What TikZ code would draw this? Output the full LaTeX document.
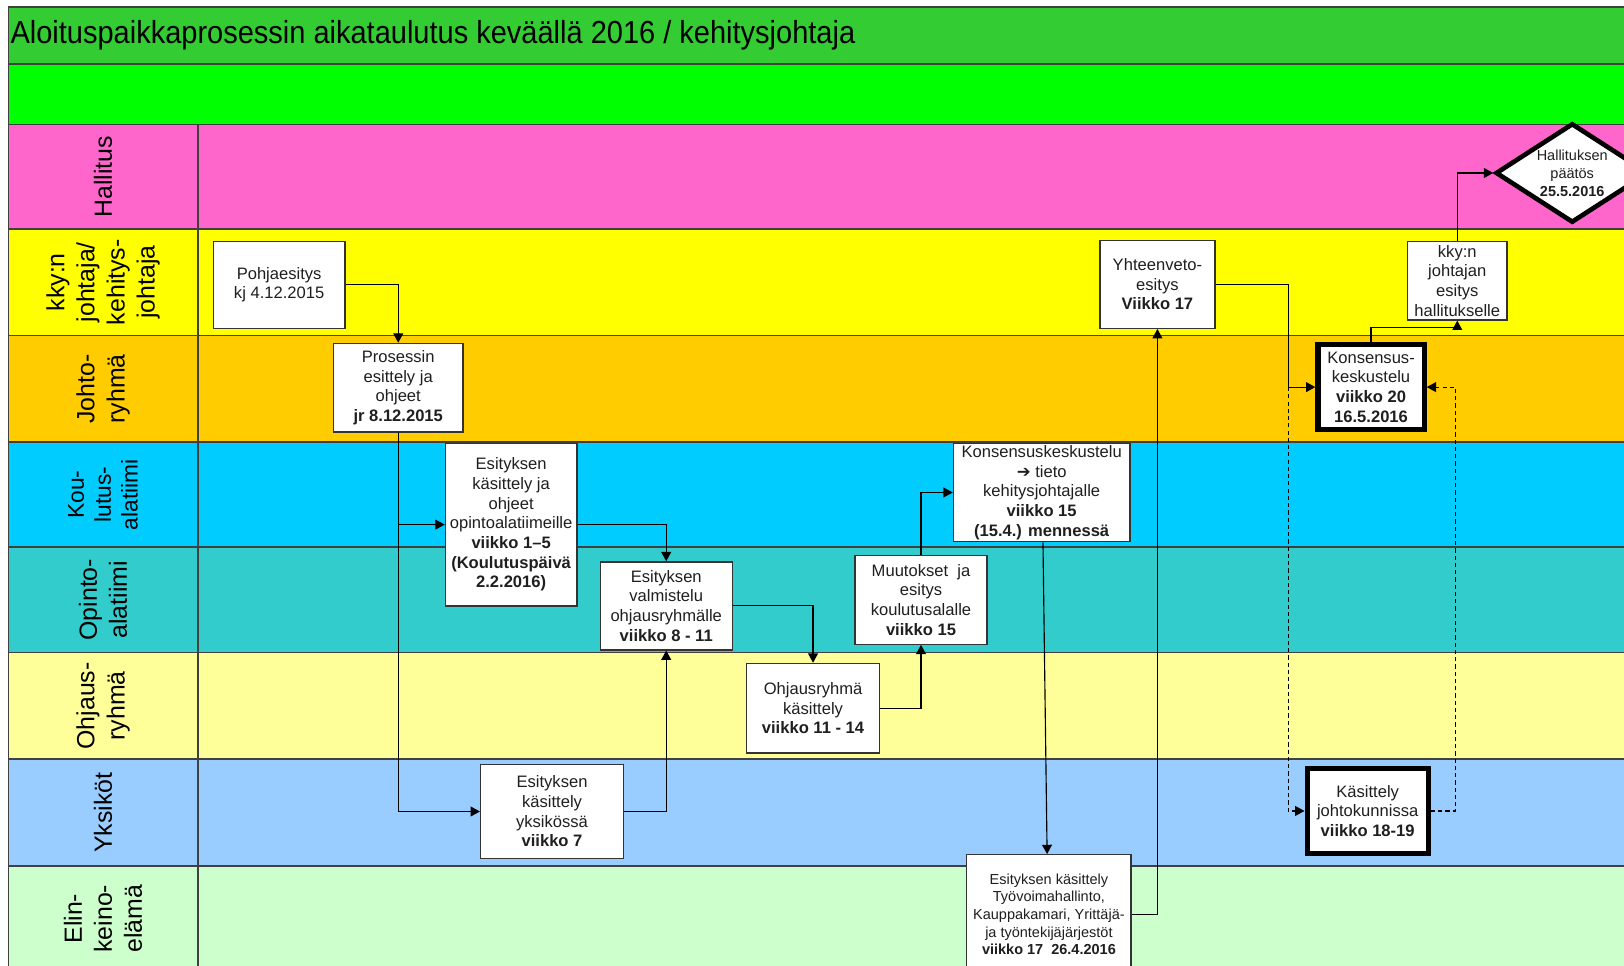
\documentclass[tikz,border=0pt]{standalone}
\usepackage{fontspec}
\setmainfont{Liberation Sans}
\newfontfamily\dejavu{DejaVu Sans}
\usetikzlibrary{arrows.meta,shapes.geometric}
\definecolor{titlegreen}{HTML}{33CC33}
\definecolor{bandgreen}{HTML}{00FF00}
\definecolor{hallc}{HTML}{FF66CC}
\definecolor{kkyc}{HTML}{FFFF00}
\definecolor{johtoc}{HTML}{FFCC00}
\definecolor{kouc}{HTML}{00CCFF}
\definecolor{opc}{HTML}{33CCCC}
\definecolor{ohjc}{HTML}{FFFF99}
\definecolor{yksc}{HTML}{99CCFF}
\definecolor{elinc}{HTML}{CCFFCC}
\definecolor{gridc}{HTML}{404040}
\definecolor{boxc}{HTML}{333333}
\definecolor{txt}{HTML}{1F1F1F}
\newcommand\myboxf{\fontsize{16}{19}\selectfont}
\newcommand\mysmallf{\fontsize{14}{17}\selectfont}
\newcommand\mydiaf{\fontsize{14}{17.5}\selectfont}
\newcommand\mylanef{\fontsize{24}{29}\selectfont}
\newcommand\mykouf{\fontsize{22}{26}\selectfont}
\newcommand\mytitlef{\fontsize{28}{32}\selectfont}
\begin{document}
\begin{tikzpicture}[x=1pt,y=-1pt,
  lane/.style={draw=gridc, line width=1.5pt},
  box/.style={draw=boxc, line width=1.2pt, fill=white, inner sep=0pt, align=center, font=\myboxf, text=txt},
  thickbox/.style={box, draw=black, line width=5pt},
  lbl/.style={rotate=90, align=center, font=\mylanef, text=black},
  arr/.style={draw=black, line width=1.1pt, -{Triangle[length=9pt,width=9.5pt]}},
  dasharr/.style={arr, dash pattern=on 4pt off 3pt},
]
\useasboundingbox (0,0) rectangle (1568,932);
\clip (0,0) rectangle (1568,932);
\fill[white] (0,0) rectangle (1568,932);
% bands
\path[lane, fill=titlegreen] (8,7) rectangle (1590,62);
\path[lane, fill=bandgreen] (8,62) rectangle (1590,120);
\path[lane, fill=hallc] (8,120) rectangle (1590,221);
\path[lane, fill=kkyc] (8,221) rectangle (1590,324);
\path[lane, fill=johtoc] (8,324) rectangle (1590,427);
\path[lane, fill=kouc] (8,427) rectangle (1590,528);
\path[lane, fill=opc] (8,528) rectangle (1590,630);
\path[lane, fill=ohjc] (8,630) rectangle (1590,733);
\path[lane, fill=yksc] (8,733) rectangle (1590,836);
\path[lane, fill=elinc] (8,836) rectangle (1590,945);
\draw[lane] (191,120) -- (191,945);
% title
\node[anchor=west, font=\mytitlef, text=black, inner sep=0pt, yscale=1.1] (T) at (10,34) {Aloituspaikkaprosessin aikataulutus keväällä 2016 / kehitysjohtaja};
% lane labels
\node[lbl] (L1) at (99.5,170.5) {Hallitus};
\node[lbl] (L2) at (99.5,272.5) {kky:n\\johtaja/\\kehitys-\\johtaja};
\node[lbl] (L3) at (99.5,375.5) {Johto-\\ryhmä};
\node[lbl, font=\mykouf] (L4) at (99.5,477.5) {Kou-\\lutus-\\alatiimi};
\node[lbl] (L5) at (99.5,579) {Opinto-\\alatiimi};
\node[lbl] (L6) at (99.5,681.5) {Ohjaus-\\ryhmä};
\node[lbl] (L7) at (99.5,784.5) {Yksiköt};
\node[lbl] (L8) at (99.5,887) {Elin-\\keino-\\elämä};
% nodes
\node[box, minimum width=127, minimum height=84] (P1) at (269.5,275) {Pohjaesitys\\kj 4.12.2015};
\node[box, minimum width=125, minimum height=85.5] (P2) at (384.5,374.25) {Prosessin\\esittely ja\\ohjeet\\\textbf{jr 8.12.2015}};
\node[box, minimum width=127, minimum height=157] (E1) at (493.5,506.5) {Esityksen\\käsittely ja\\ohjeet\\opintoalatiimeille\\\textbf{viikko 1–5}\\\textbf{(Koulutuspäivä}\\\textbf{2.2.2016)}};
\node[box, minimum width=127.5, minimum height=85] (V) at (643.25,585) {Esityksen\\valmistelu\\ohjausryhmälle\\\textbf{viikko 8 - 11}};
\node[box, minimum width=138, minimum height=91] (E5) at (533,783.5) {Esityksen\\käsittely\\yksikössä\\\textbf{viikko 7}};
\node[box, minimum width=128, minimum height=86.5] (O) at (785,683.75) {Ohjausryhmä\\käsittely\\\textbf{viikko 11 - 14}};
\node[box, minimum width=127.5, minimum height=86] (M) at (889.25,579) {Muutokset\ \ ja\\esitys\\koulutusalalle\\\textbf{viikko 15}};
\node[box, minimum width=170.5, minimum height=95] (K1) at (1005.75,475.5) {Konsensuskeskustelu\\{\dejavu\bfseries ➔} tieto\\kehitysjohtajalle\\\textbf{viikko 15}\\\textbf{(15.4.) mennessä}};
\node[box, font=\mysmallf, minimum width=158.5, minimum height=115] (E4) at (1012.75,882.75) {Esityksen käsittely\\Työvoimahallinto,\\Kauppakamari, Yrittäjä-\\ja työntekijäjärjestöt\\\textbf{viikko 17\ \ 26.4.2016}};
\node[box, minimum width=111, minimum height=85] (Y) at (1117.5,274.5) {Yhteenveto-\\esitys\\\textbf{Viikko 17}};
\node[thickbox, minimum width=102.5, minimum height=82.5] (K2) at (1323.75,373.75) {Konsensus-\\keskustelu\\\textbf{viikko 20}\\\textbf{16.5.2016}};
\node[box, minimum width=96, minimum height=76] (K3) at (1407,271) {kky:n\\johtajan\\esitys\\hallitukselle};
\node[thickbox, minimum width=117, minimum height=82] (K4) at (1320.5,783) {Käsittely\\johtokunnissa\\\textbf{viikko 18-19}};
\node[diamond, aspect=1.54, draw=black, line width=4.5pt, fill=white, inner sep=0pt, minimum width=148, minimum height=96, align=center, font=\mydiaf, text=txt] (D) at (1518,167) {Hallituksen\\päätös\\\textbf{25.5.2016}};
% helper coordinates
\coordinate (J) at (1244,373.75);
\coordinate (J2) at (1405,783);
% connectors
\draw[arr] (P1.east) -| (P2.north);
\draw[arr] (P2.south) |- (E1.west);
\draw[arr] (P2.south) |- (E5.west);
\draw[arr] (E1.east) -| (V.north);
\draw[arr] (E5.east) -| (V.south);
\draw[arr] (V.east) -| (O.north);
\draw[arr] (O.east) -| (M.south);
\draw[arr] (M.north) |- (K1.west);
\draw[arr] ([xshift=1.25pt]K1.south) -- ([xshift=-1.75pt]E4.north);
\draw[arr] (E4.east) -| (Y.south);
\draw[arr] (Y.east) -| (J) -- (K2.west);
\draw[dasharr] (J) |- (K4.west);
\draw[dasharr] (K4.east) -- (J2) |- (K2.east);
\draw[arr] (K2.north) |- ([yshift=-7pt]K3.south) -- (K3.south);
\draw[arr] (K3.north) |- (D.west);
\end{tikzpicture}
\end{document}
